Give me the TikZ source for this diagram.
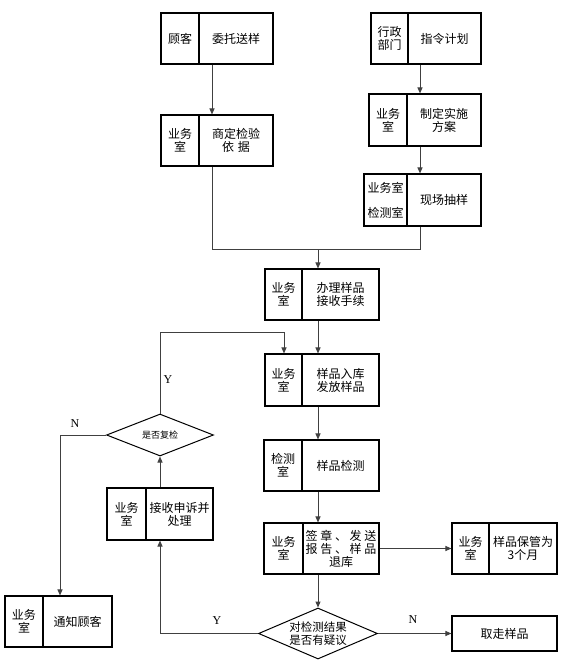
\documentclass[tikz,border=0pt]{standalone}
\usepackage{fontspec}
\setmainfont{Noto Sans CJK SC}
\newfontfamily\latf{Liberation Serif}
\usetikzlibrary{shapes.geometric,arrows.meta,calc}
\tikzset{
 boxn/.style={draw=black, line width=1.1pt, rectangle, inner sep=0pt},
 divl/.style={draw=black, line width=1.1pt},
 txt/.style={inner sep=0pt, align=center, font=\fontsize{12}{13}\selectfont},
 conn/.style={draw=black!75, line width=1pt},
 arr/.style={conn, -{Triangle[length=6pt,width=5pt]}},
 yn/.style={inner sep=0pt, font=\latf\fontsize{12}{13}\selectfont},
 dia/.style={draw=black, line width=1pt, diamond, inner sep=0pt},
}
\newcommand\splitbox[8]{%
 \node[boxn, minimum width=#4pt-#2pt, minimum height=#6pt-#5pt] (#1) at ({(#2+#4)/2},{(#5+#6)/2}) {};
 \draw[divl] (#1.north -| #3,0) -- (#1.south -| #3,0);
 \node[txt] (#1-l) at ({(#2+#3)/2},{(#5+#6)/2}) {#7};
 \node[txt] (#1-r) at ({(#3+#4)/2},{(#5+#6)/2}) {#8};
}
\begin{document}
\begin{tikzpicture}[x=1pt,y=-1pt]
\useasboundingbox (0,0) rectangle (565,664);
\splitbox{b1}{161}{199}{273}{13}{64}{顾客}{委托送样}
\splitbox{b2}{161}{199}{273}{115}{166}{业务\\室}{商定检验\\依\hspace{4pt}据}
\splitbox{b3}{371}{408}{481}{13}{64}{行政\\部门}{指令计划}
\splitbox{b4}{369}{407}{481}{94}{146}{业务\\室}{制定实施\\方案}
\splitbox{b5}{364}{407}{481}{174}{226}{业务室\\[12pt]检测室}{现场抽样}
\splitbox{b6}{265}{302}{379}{269}{320}{业务\\室}{办理样品\\接收手续}
\splitbox{b7}{265}{302}{379}{354}{406}{业务\\室}{样品入库\\发放样品}
\splitbox{b8}{264}{302}{379}{440}{491}{检测\\室}{样品检测}
\splitbox{b9}{264}{303}{379}{523}{574}{业务\\室}{\hbox to 71pt{签\hfil 章\hfil 、\hfil 发\hfil 送}\\\hbox to 71pt{报\hfil 告\hfil 、\hfil 样\hfil 品}\\退库}
\splitbox{b10}{452}{489}{557}{523}{574}{业务\\室}{样品保管为\\3个月}
\splitbox{appeal}{107}{146}{213}{488}{540}{业务\\室}{接收申诉并\\处理}
\splitbox{notify}{5}{43}{112}{596}{647}{业务\\室}{通知顾客}
\node[boxn, txt, draw, minimum width=105pt, minimum height=35pt] (take) at (504.5,633.5) {取走样品};
% diamonds
\node[dia, minimum width=107pt, minimum height=42pt] (d1) at (160,435) {};
\node[inner sep=0pt, font=\fontsize{9}{10}\selectfont] (d1t) at (d1) {是否复检};
\node[dia, minimum width=119pt, minimum height=51pt] (d2) at (318,633.5) {};
\node[txt, font=\fontsize{11.5}{13}\selectfont] (d2t) at (d2) {对检测结果\\是否有疑议};
% labels
\node[yn] (ly1) at (168,380) {Y};
\node[yn] (ln1) at (75,424) {N};
\node[yn] (ly2) at (217,621) {Y};
\node[yn] (ln2) at (413,620) {N};
% connectors
\coordinate (j) at (318,249);
\coordinate (c1) at (284,332);
\coordinate (c2) at (60,435);
\draw[arr] (b1.south -| 212,0) -- (b2.north -| 212,0);
\draw[arr] (b3.south -| 420,0) -- (b4.north -| 420,0);
\draw[arr] (b4.south -| 420,0) -- (b5.north -| 420,0);
\draw[conn] (b2.south -| 212,0) |- (j);
\draw[conn] (b5.south -| 420,0) |- (j);
\draw[arr] (j) -- (b6.north -| j);
\draw[arr] (b6.south -| j) -- (b7.north -| j);
\draw[arr] (b7.south -| j) -- (b8.north -| j);
\draw[arr] (b8.south -| j) -- (b9.north -| j);
\draw[arr] (b9.east) -- (b10.west);
\draw[arr] (b9.south -| j) -- (d2.north);
\draw[arr] (d2.east) -- (take.west);
\draw[arr] (d2.west) -| (appeal.south -| d1.south);
\draw[arr] (appeal.north -| d1.south) -- (d1.south);
\draw[arr] (d1.north) |- (c1) -- (b7.north -| c1);
\draw[arr] (d1.west) -- (c2) -- (notify.north -| c2);
\end{tikzpicture}
\end{document}
